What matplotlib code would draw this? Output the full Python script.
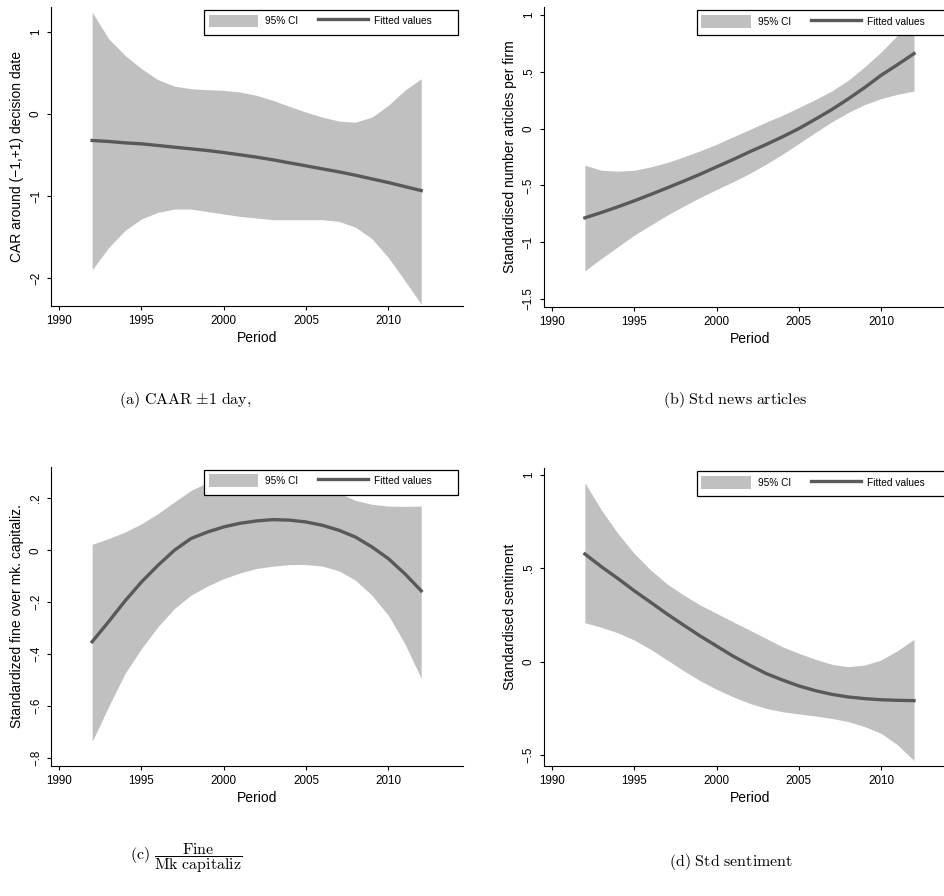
import matplotlib
matplotlib.use("Agg")
import matplotlib.pyplot as plt
import matplotlib.patches as patches

plt.rcParams['font.family'] = ['Liberation Sans', 'DejaVu Sans']
plt.rcParams['mathtext.fontset'] = 'cm'

# shared x values (period)
years = [1992, 1993, 1994, 1995, 1996, 1997, 1998, 1999, 2000, 2001, 2002,
         2003, 2004, 2005, 2006, 2007, 2008, 2009, 2010, 2011, 2012]

# (a) CAR around decision date
car_fit = [-0.325, -0.337, -0.354, -0.366, -0.386, -0.407, -0.427, -0.447, -0.472, -0.50, -0.528,
           -0.561, -0.598, -0.634, -0.671, -0.707, -0.748, -0.793, -0.837, -0.886, -0.935]
car_hi = [1.24, 0.915, 0.711, 0.549, 0.415, 0.337, 0.305, 0.293, 0.285, 0.264, 0.224,
          0.163, 0.089, 0.02, -0.041, -0.089, -0.102, -0.041, 0.102, 0.285, 0.427]
car_lo = [-1.90, -1.63, -1.42, -1.28, -1.20, -1.16, -1.16, -1.19, -1.22, -1.25, -1.27,
          -1.29, -1.29, -1.29, -1.29, -1.31, -1.38, -1.52, -1.75, -2.03, -2.32]

# (b) standardised news articles
news_fit = [-0.786, -0.739, -0.689, -0.636, -0.58, -0.522, -0.463, -0.402, -0.337, -0.273, -0.205,
            -0.141, -0.073, 0.0, 0.082, 0.167, 0.261, 0.361, 0.469, 0.563, 0.66]
news_hi = [-0.323, -0.367, -0.375, -0.367, -0.337, -0.299, -0.249, -0.196, -0.138, -0.073, -0.009,
           0.056, 0.117, 0.185, 0.255, 0.331, 0.425, 0.543, 0.674, 0.821, 0.953]
news_lo = [-1.252, -1.144, -1.041, -0.938, -0.85, -0.762, -0.683, -0.607, -0.537, -0.469, -0.396,
           -0.314, -0.226, -0.132, -0.035, 0.059, 0.141, 0.211, 0.264, 0.302, 0.331]

# (c) standardized fine over market capitalization
fine_fit = [-0.352, -0.275, -0.195, -0.122, -0.058, 0.0, 0.045, 0.07, 0.09, 0.104, 0.113,
            0.118, 0.116, 0.109, 0.096, 0.077, 0.051, 0.013, -0.032, -0.09, -0.156]
fine_hi = [0.023, 0.045, 0.07, 0.102, 0.141, 0.186, 0.23, 0.26, 0.285, 0.30, 0.31,
           0.31, 0.30, 0.28, 0.25, 0.22, 0.192, 0.177, 0.17, 0.169, 0.17]
fine_lo = [-0.736, -0.602, -0.474, -0.378, -0.294, -0.224, -0.173, -0.138, -0.109, -0.087, -0.07,
           -0.061, -0.055, -0.055, -0.061, -0.079, -0.115, -0.173, -0.25, -0.359, -0.493]

# (d) standardised sentiment
sent_fit = [0.577, 0.509, 0.446, 0.38, 0.318, 0.255, 0.196, 0.138, 0.084, 0.03, -0.018,
            -0.063, -0.098, -0.13, -0.155, -0.175, -0.189, -0.198, -0.204, -0.207, -0.209]
sent_hi = [0.959, 0.813, 0.688, 0.58, 0.491, 0.416, 0.357, 0.304, 0.259, 0.214, 0.17,
           0.125, 0.08, 0.045, 0.013, -0.014, -0.027, -0.018, 0.009, 0.059, 0.12]
sent_lo = [0.209, 0.184, 0.155, 0.116, 0.066, 0.009, -0.048, -0.102, -0.148, -0.188, -0.223,
           -0.25, -0.268, -0.28, -0.291, -0.304, -0.321, -0.348, -0.384, -0.446, -0.53]

xticks = [1990, 1995, 2000, 2005, 2010]

panels = [
    dict(pos=[0.054, 0.6585, 0.4365, 0.3337], fit=car_fit, hi=car_hi, lo=car_lo,
         ylim=(-2.34, 1.30), yt=[-2, -1, 0, 1], ytl=['\u22122', '\u22121', '0', '1'],
         ylabel='CAR around (\u22121,+1) decision date'),
    dict(pos=[0.576, 0.6577, 0.4365, 0.3342], fit=news_fit, hi=news_hi, lo=news_lo,
         ylim=(-1.568, 1.068), yt=[-1.5, -1, -0.5, 0, 0.5, 1],
         ytl=['\u22121.5', '\u22121', '\u2212.5', '0', '.5', '1'],
         ylabel='Standardised number articles per firm'),
    dict(pos=[0.054, 0.1451, 0.4365, 0.334], fit=fine_fit, hi=fine_hi, lo=fine_lo,
         ylim=(-0.83, 0.3215), yt=[-0.8, -0.6, -0.4, -0.2, 0, 0.2],
         ytl=['\u2212.8', '\u2212.6', '\u2212.4', '\u2212.2', '0', '.2'],
         ylabel='Standardized fine over mk. capitaliz.'),
    dict(pos=[0.576, 0.1451, 0.4365, 0.3322], fit=sent_fit, hi=sent_hi, lo=sent_lo,
         ylim=(-0.559, 1.036), yt=[-0.5, 0, 0.5, 1], ytl=['\u2212.5', '0', '.5', '1'],
         ylabel='Standardised sentiment'),
]

W, H = 944, 896
fig = plt.figure(figsize=(W / 100, H / 100), dpi=100)

for p in panels:
    ax = fig.add_axes(p['pos'])
    ax.fill_between(years, p['lo'], p['hi'], color='#c0c0c0', linewidth=0, label='95% CI')
    ax.plot(years, p['fit'], color='#595959', linewidth=2.4, label='Fitted values')
    ax.set_xlim(1989.5, 2014.54)
    ax.set_ylim(*p['ylim'])
    ax.set_xticks(xticks)
    ax.set_yticks(p['yt'])
    ax.set_yticklabels(p['ytl'], rotation=90, va='center')
    ax.spines['top'].set_visible(False)
    ax.spines['right'].set_visible(False)
    for s in ['left', 'bottom']:
        ax.spines[s].set_linewidth(0.8)
    ax.tick_params(direction='out', length=3, width=0.8, labelsize=8.4, pad=3.5)
    ax.set_xlabel('Period', fontsize=10, labelpad=3)
    ax.set_ylabel(p['ylabel'], fontsize=10, labelpad=4)

    # legend box in Stata style: frame drawn by hand, pixel offsets from axes corner
    aw = p['pos'][2] * W
    ah = p['pos'][3] * H
    bx0 = 153 / aw
    bw = 254 / aw
    btop = 1 - 3 / ah
    bh = 25 / ah
    ax.add_patch(patches.Rectangle((bx0, btop - bh), bw, bh, transform=ax.transAxes,
                                   facecolor='white', edgecolor='black', linewidth=0.9,
                                   clip_on=False, zorder=5))
    leg = ax.legend(loc='upper left', bbox_to_anchor=(bx0, btop), ncol=2,
                    fontsize=7.3, frameon=False, borderaxespad=0,
                    handlelength=4.9, handleheight=1.55, handletextpad=0.65,
                    columnspacing=2.0, borderpad=0.45)
    leg.set_zorder(6)

# sub-figure captions
fig.text(185 / W, 1 - 400 / H, r'$\mathrm{(a)\ CAAR\ }{\pm}\mathrm{1\ day,}$',
         ha='center', va='center', fontsize=11.5)
fig.text(735 / W, 1 - 400 / H, r'$\mathrm{(b)\ Std\ news\ articles}$',
         ha='center', va='center', fontsize=11.5)
fig.text(186 / W, 1 - 858 / H, r'$\mathrm{(c)}\ \dfrac{\mathrm{Fine}}{\mathrm{Mk\ capitaliz}}$',
         ha='center', va='center', fontsize=11.5)
fig.text(731 / W, 1 - 862 / H, r'$\mathrm{(d)\ Std\ sentiment}$',
         ha='center', va='center', fontsize=11.5)

fig.savefig('out.png', dpi=100)
